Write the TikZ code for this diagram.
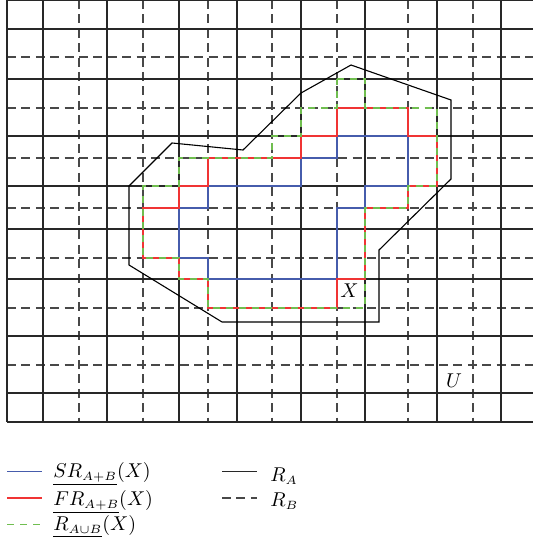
\documentclass[tikz,border=0pt]{standalone}
\usepackage{amsmath}
\DeclareMathSizes{10}{10}{6.2}{5}
\definecolor{sblue}{RGB}{70,92,172}
\definecolor{fred}{RGB}{240,52,52}
\definecolor{rgreen}{RGB}{112,190,80}
\definecolor{gridc}{RGB}{40,40,40}
\definecolor{dgridc}{RGB}{72,72,72}
\begin{document}
\begin{tikzpicture}[x=0.5pt,y=-0.5pt,
  solidgrid/.style={gridc,line width=0.65pt},
  dashgrid/.style={dgridc,line width=0.65pt,dash pattern=on 4.5pt off 2.7pt},
  poly/.style={black,line width=0.55pt,line join=miter},
  sr/.style={sblue,line width=0.75pt},
  fr/.style={fred,line width=0.75pt},
  ru/.style={rgreen,line width=0.75pt,dash pattern=on 3.5pt off 3pt},
  lbl/.style={inner sep=0pt,anchor=base west},
  clbl/.style={inner sep=0pt}]
\useasboundingbox (0,0) rectangle (533,539);
% grid R_B (dashed)
\foreach \x in {79,143,208,272,337,408,473} \draw[dashgrid] (\x,0) -- (\x,422);
\foreach \y in {57,108,158,208,258,308,365} \draw[dashgrid] (7,\y) -- (533,\y);
% grid R_A (solid)
\foreach \x in {7,43,107,179,237,301,365,437,501} \draw[solidgrid] (\x,0) -- (\x,422);
\foreach \y in {0.6,29,79,136,186,229,279,336,393,422} \draw[solidgrid] (7,\y) -- (533,\y);
% black polygon
\draw[poly] (129,186) -- (172,143) -- (243,150) -- (301,93) -- (351,65) -- (451,100)
  -- (451,179) -- (379,250) -- (379,322) -- (222,322) -- (129,265) -- cycle;
% SR (blue)
\draw[sr] (337,136) -- (408,136) -- (408,186) -- (365,186) -- (365,208) -- (337,208)
  -- (337,279) -- (208,279) -- (208,258) -- (179,258) -- (179,208) -- (208,208)
  -- (208,186) -- (301,186) -- (301,158) -- (337,158) -- cycle;
% FR (red)
\draw[fr] (337,108) -- (408,108) -- (408,136) -- (437,136) -- (437,186) -- (408,186)
  -- (408,208) -- (365,208) -- (365,279) -- (337,279) -- (337,308) -- (208,308)
  -- (208,279) -- (179,279) -- (179,258) -- (143,258) -- (143,208) -- (179,208)
  -- (179,186) -- (208,186) -- (208,158) -- (301,158) -- (301,136) -- (337,136) -- cycle;
% R_{A cup B} (green dashed)
\draw[ru] (337,79) -- (365,79) -- (365,108) -- (437,108) -- (437,186) -- (408,186)
  -- (408,208) -- (365,208) -- (365,308) -- (208,308) -- (208,279) -- (179,279)
  -- (179,258) -- (143,258) -- (143,186) -- (179,186) -- (179,158) -- (272,158)
  -- (272,136) -- (301,136) -- (301,108) -- (337,108) -- cycle;
% labels
\node[clbl] (xlab) at (349.5,291) {$X$};
\node[clbl] (ulab) at (454,380.3) {$U$};
% legend
\coordinate (l1a) at (7,471.7); \coordinate (l1b) at (42,471.7);
\coordinate (l2a) at (7,498); \coordinate (l2b) at (42,498);
\coordinate (l3a) at (7,524.3); \coordinate (l3b) at (42,524.3);
\coordinate (r1a) at (222,471.7); \coordinate (r1b) at (257,471.7);
\coordinate (r2a) at (222,498); \coordinate (r2b) at (257,498);
\draw[sr,line width=0.55pt] (l1a) -- (l1b);
\draw[fr] (l2a) -- (l2b);
\draw[ru] (l3a) -- (l3b);
\draw[solidgrid] (r1a) -- (r1b);
\draw[dashgrid] (r2a) -- (r2b);
\node[lbl] (t1) at (53,477.3) {$\underline{SR_{A+B}}(X)$};
\node[lbl] (t2) at (53,505) {$\underline{FR_{A+B}}(X)$};
\node[lbl] (t3) at (53,530.7) {$\underline{R_{A\cup B}}(X)$};
\node[lbl] (t4) at (270,481.7) {$R_A$};
\node[lbl] (t5) at (270,506.7) {$R_B$};
\end{tikzpicture}
\end{document}
